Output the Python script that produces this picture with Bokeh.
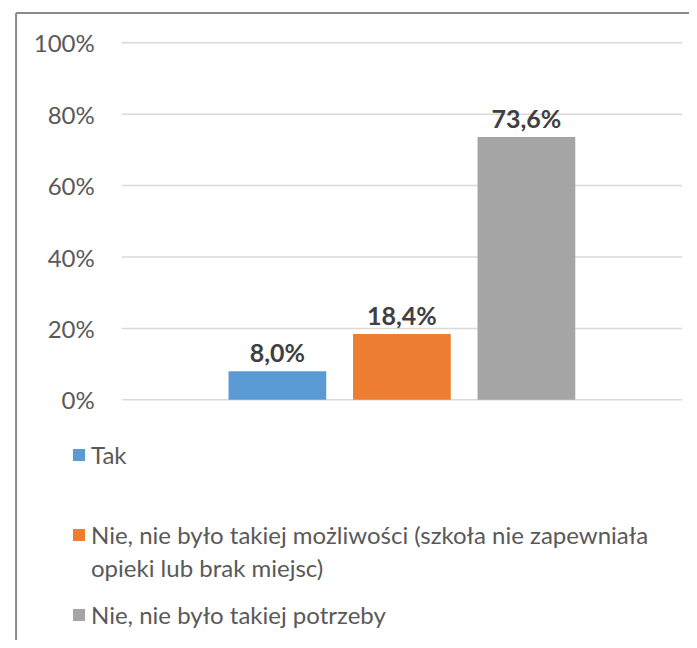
from bokeh.plotting import figure
from bokeh.models import ColumnDataSource, Range1d, Legend, LegendItem
from bokeh.core.properties import value
from bokeh.embed import file_html
from bokeh.resources import INLINE

# ---- data ----
series_names = [
    "Tak",
    "Nie, nie było takiej możliwości (szkoła nie zapewniała",
    "Nie, nie było takiej potrzeby",
]
series_name_continuation = "opieki lub brak miejsc)"
series_values = [8.0, 18.4, 73.6]
value_labels = ["8,0%", "18,4%", "73,6%"]
series_colors = ["#5B9BD5", "#ED7D31", "#A5A5A5"]
slot_positions = [-1, 0, 1]
tick_values = [0, 20, 40, 60, 80, 100]
tick_labels = ["0%", "20%", "40%", "60%", "80%", "100%"]

FONT = "Lato"

# ---- layout (data-space extents of the plot area and chart border) ----
PLOT_X0, PLOT_X1 = -2.25, 2.25
X_START, X_END = -3.224, 2.310
Y_START, Y_END = -67.42, 111.85
BORDER_X, BORDER_Y = -3.099, 108.35

p = figure(
    width=689, height=640,
    x_range=Range1d(X_START, X_END), y_range=Range1d(Y_START, Y_END),
    output_backend="svg", toolbar_location=None,
    min_border=0,
)
p.outline_line_color = None
p.axis.visible = False
p.grid.visible = False

# chart border (left and top edges)
p.segment(x0=[BORDER_X, BORDER_X], y0=[BORDER_Y, BORDER_Y],
          x1=[BORDER_X, X_END], y1=[Y_START, BORDER_Y],
          line_color="#8a8a8a", line_width=2)

# gridlines
p.segment(x0=PLOT_X0, x1=PLOT_X1, y0=tick_values, y1=tick_values,
          line_color="#d9d9d9", line_width=1.5)

# tick labels
p.text(x=PLOT_X0, y=tick_values, text=tick_labels, x_offset=-27,
       text_align="right", text_baseline="middle",
       text_font=value(FONT), text_font_size="24px", text_color="#595959")

renderers = []
for i in range(len(series_values)):
    src = ColumnDataSource(dict(x=[slot_positions[i]], top=[series_values[i]]))
    r = p.vbar(x="x", top="top", bottom=0, width=0.785, source=src,
               fill_color=series_colors[i], line_color=None)
    renderers.append(r)

# invisible renderer used only to indent the wrapped legend line
blank = p.vbar(x=[], top=[], width=0.785, fill_alpha=0, line_alpha=0)

lab_src = ColumnDataSource(dict(x=slot_positions, y=series_values, t=value_labels))
p.text(x="x", y="y", text="t", source=lab_src, text_align="center",
       text_baseline="alphabetic", y_offset=-19,
       text_font=value(FONT), text_font_style="bold",
       text_font_size="25px", text_color="#404040")

legend_entries = [
    (series_names[0], renderers[0], 170.5),
    (series_names[1], renderers[1], 90.5),
    (series_name_continuation, blank, 58),
    (series_names[2], renderers[2], 10.5),
]
for label, rend, vy in legend_entries:
    leg = Legend(
        items=[LegendItem(label=label, renderers=[rend])],
        location=(71, vy),
        padding=0, margin=0, spacing=0,
        border_line_color=None, background_fill_alpha=0,
        label_text_font=FONT, label_text_font_size="24px",
        label_text_color="#595959", label_height=30,
        glyph_width=15, glyph_height=15, label_standoff=5,
    )
    p.add_layout(leg, "center")

open("out.html", "w").write(file_html(p, INLINE))
